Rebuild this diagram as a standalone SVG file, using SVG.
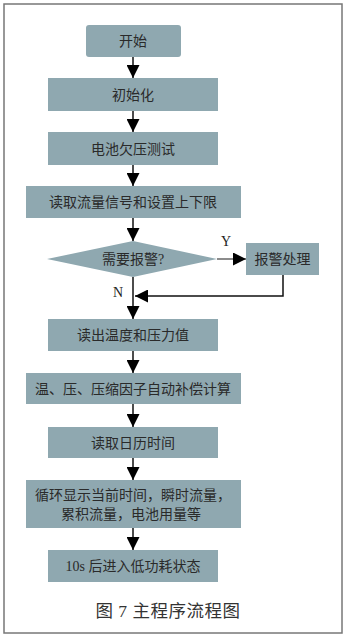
<svg xmlns="http://www.w3.org/2000/svg" width="346" height="638" viewBox="0 0 346 638">
<style>
.box{fill:#8fa8b0;}
.t{font-family:"Liberation Serif","Noto Sans CJK SC",serif;font-size:14px;fill:#2a2a2a;text-anchor:middle;}
.lbl{font-family:"Liberation Serif",serif;font-size:14px;fill:#222;text-anchor:middle;}
.ln{stroke:#111;stroke-width:1.5;fill:none;}
</style>
<defs>
<marker id="ah" markerWidth="13" markerHeight="13" viewBox="0 0 13 13" refX="13" refY="6.5" orient="auto" markerUnits="userSpaceOnUse">
<path d="M0,0 L13,6.5 L0,13 Z" fill="#000"/>
</marker>
</defs>
<rect x="4" y="4" width="338" height="629" fill="#fff" stroke="#777" stroke-width="1.5"/>
<g id="connectors">
<line class="ln" x1="133" y1="57" x2="133" y2="78" marker-end="url(#ah)"/>
<line class="ln" x1="133" y1="111" x2="133" y2="132" marker-end="url(#ah)"/>
<line class="ln" x1="133" y1="165" x2="133" y2="186" marker-end="url(#ah)"/>
<line class="ln" x1="133" y1="218" x2="133" y2="241" marker-end="url(#ah)"/>
<line class="ln" x1="217" y1="259" x2="246" y2="259" marker-end="url(#ah)" style="stroke:#666"/>
<polyline class="ln" points="283,275 283,296 135,296" marker-end="url(#ah)"/>
<line class="ln" x1="133" y1="277" x2="133" y2="319" marker-end="url(#ah)"/>
<line class="ln" x1="133" y1="351" x2="133" y2="373" marker-end="url(#ah)"/>
<line class="ln" x1="133" y1="404" x2="133" y2="427" marker-end="url(#ah)"/>
<line class="ln" x1="133" y1="458" x2="133" y2="480" marker-end="url(#ah)"/>
<line class="ln" x1="133" y1="528" x2="133" y2="550" marker-end="url(#ah)"/>
<text class="lbl" x="226" y="246">Y</text>
<text class="lbl" x="118" y="297">N</text>
</g>
<g id="start"><rect class="box" x="86" y="25" width="95" height="32" rx="3"/><text class="t" x="133" y="46">开始</text></g>
<g id="init"><rect class="box" x="48" y="78" width="170" height="33"/><text class="t" x="133" y="99.5">初始化</text></g>
<g id="battery"><rect class="box" x="48" y="132" width="170" height="33"/><text class="t" x="133" y="153.5">电池欠压测试</text></g>
<g id="readflow"><rect class="box" x="26" y="186" width="215" height="32"/><text class="t" x="133" y="207">读取流量信号和设置上下限</text></g>
<g id="decision"><polygon class="box" points="47,259 133,241 217,259 133,277"/><text class="t" x="133" y="264">需要报警?</text></g>
<g id="alarm"><rect class="box" x="246" y="243" width="73" height="32"/><text class="t" x="282.5" y="264">报警处理</text></g>
<g id="readtp"><rect class="box" x="48" y="319" width="170" height="32"/><text class="t" x="133" y="340">读出温度和压力值</text></g>
<g id="comp"><rect class="box" x="26" y="373" width="215" height="31"/><text class="t" x="133" y="393.5">温、压、压缩因子自动补偿计算</text></g>
<g id="calendar"><rect class="box" x="48" y="427" width="170" height="31"/><text class="t" x="133" y="447.5">读取日历时间</text></g>
<g id="display"><rect class="box" x="26" y="480" width="215" height="48"/><text class="t" x="133" y="500">循环显示当前时间，瞬时流量，</text><text class="t" x="131" y="518.5">累积流量，电池用量等</text></g>
<g id="lowpower"><rect class="box" x="48" y="550" width="170" height="32"/><text class="t" x="133" y="571">10s 后进入低功耗状态</text></g>
<text x="168" y="617" style="font-family:'Liberation Serif','Noto Sans CJK SC',serif;font-size:17.5px;fill:#333;text-anchor:middle;letter-spacing:0.5px">图 7 主程序流程图</text>
</svg>
